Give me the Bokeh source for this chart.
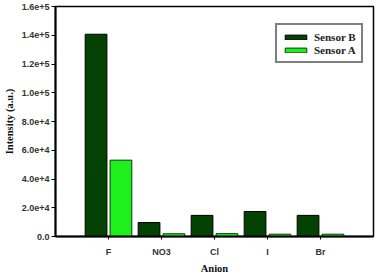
from bokeh.plotting import figure
from bokeh.models import Range1d, FactorRange, FixedTicker, Legend, LegendItem, ColumnDataSource
from bokeh.transform import dodge
from bokeh.embed import file_html
from bokeh.resources import INLINE

anions = ["F", "NO3", "Cl", "I", "Br"]
sensor_b = [140700, 9700, 14700, 17400, 14700]
sensor_a = [53100, 1900, 2000, 1600, 1600]
y_ticks = [0, 20000, 40000, 60000, 80000, 100000, 120000, 140000, 160000]
y_tick_labels = ["0.0", "2.0e+4", "4.0e+4", "6.0e+4", "8.0e+4", "1.0e+5", "1.2e+5", "1.4e+5", "1.6e+5"]

src = ColumnDataSource(dict(anion=anions, b=sensor_b, a=sensor_a))

p = figure(width=378, height=276, output_backend="svg", toolbar_location=None,
           x_range=FactorRange(factors=anions, range_padding=0.2, range_padding_units="percent"),
           y_range=Range1d(0, 160000),
           min_border_left=52, min_border_right=5, min_border_top=6, min_border_bottom=38)

rb = p.vbar(x=dodge("anion", -0.235, range=p.x_range), top="b", width=0.41, source=src,
            fill_color="#034203", line_color="#000000", line_width=1)
ra = p.vbar(x=dodge("anion", 0.235, range=p.x_range), top="a", width=0.41, source=src,
            fill_color="#1df01d", line_color="#0a3a0a", line_width=1)

p.xgrid.visible = False
p.ygrid.visible = False
p.background_fill_color = "white"
p.border_fill_color = "white"
p.outline_line_color = "black"
p.outline_line_width = 1.5
p.outline_line_alpha = 1

p.yaxis.ticker = FixedTicker(ticks=y_ticks)
p.yaxis.major_label_overrides = {t: l for t, l in zip(y_ticks, y_tick_labels)}
p.yaxis.minor_tick_line_color = None

for ax in (p.xaxis[0], p.yaxis[0]):
    ax.axis_line_width = 2
    ax.axis_line_color = "black"
    ax.major_tick_line_color = "black"
    ax.major_tick_line_width = 1
    ax.major_tick_in = 0
    ax.major_label_text_font = "Liberation Sans"
    ax.major_label_text_font_style = "bold"
    ax.major_label_text_font_size = "9px"
    ax.major_label_text_color = "#333333"
    ax.axis_label_text_font = "Liberation Serif"
    ax.axis_label_text_font_style = "bold"
    ax.axis_label_text_font_size = "10.5px"
    ax.axis_label_text_color = "#111111"

p.yaxis.major_tick_out = 4
p.yaxis.major_label_standoff = 2
p.yaxis.axis_label = "Intensity (a.u.)"
p.yaxis.axis_label_standoff = 4

p.xaxis.major_tick_out = 3
p.xaxis.major_label_standoff = 7
p.xaxis.axis_label = "Anion"
p.xaxis.axis_label_standoff = 3

legend = Legend(items=[LegendItem(label="Sensor B", renderers=[rb]),
                       LegendItem(label="Sensor A", renderers=[ra])],
                location=(220, 173), orientation="vertical")
legend.label_text_font = "Liberation Serif"
legend.label_text_font_style = "bold"
legend.label_text_font_size = "11px"
legend.label_text_color = "#222222"
legend.glyph_width = 27
legend.glyph_height = 6
legend.label_height = 13
legend.label_standoff = 5
legend.padding = 5
legend.spacing = 0
legend.margin = 0
legend.border_line_color = "black"
legend.border_line_width = 2
legend.background_fill_alpha = 1
p.add_layout(legend, "center")

open("out.html", "w").write(file_html(p, INLINE))
